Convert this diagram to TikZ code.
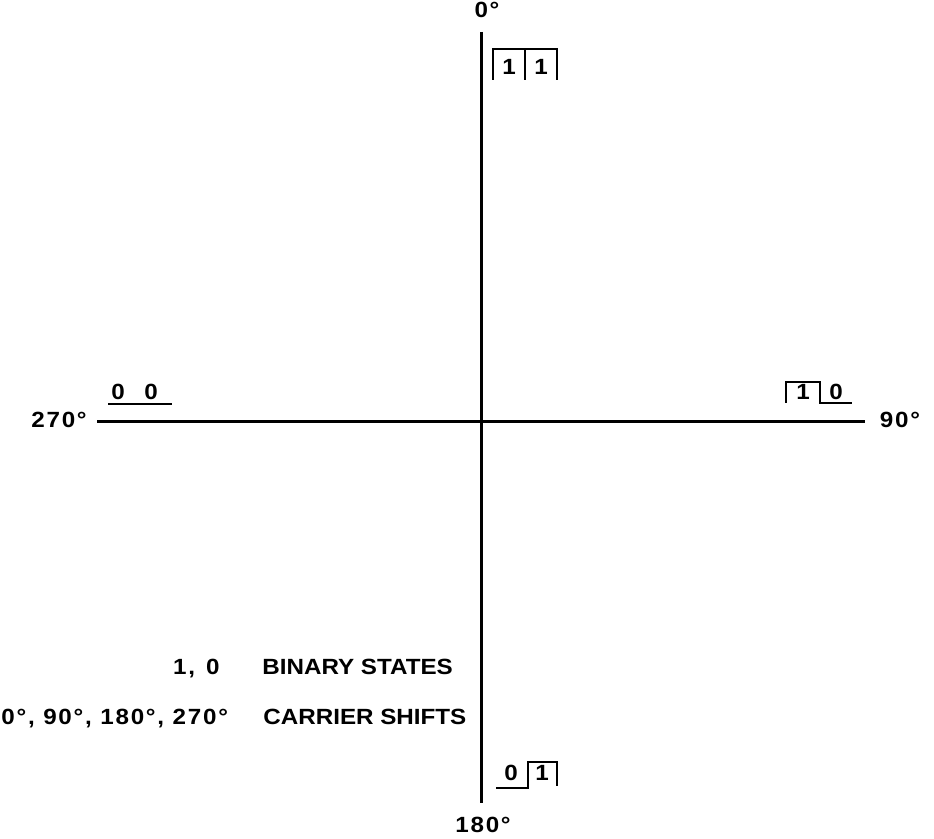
\documentclass[tikz,border=0pt]{standalone}
\usepackage{fontspec}
\setmainfont{Liberation Sans}[FakeStretch=1.1]
\usepackage{tikz}
\usetikzlibrary{positioning, calc}

\newcommand{\lblfont}{\fontsize{11}{13}\selectfont\bfseries}
\newcommand{\numfont}{\fontsize{11}{13}\selectfont\bfseries\addfontfeatures{LetterSpace=8}}

\begin{document}
\begin{tikzpicture}[x=0.5pt, y=-0.5pt,
    axis/.style={line width=1.5pt},
    wave/.style={line width=1pt, line join=miter},
    lbl/.style={font=\lblfont, inner sep=0pt, anchor=base},
    deg/.style={font=\numfont, inner sep=0pt, anchor=base},
    bit/.style={font=\lblfont, inner sep=0pt, anchor=base}]

    \useasboundingbox (0,0) rectangle (934,839);

    % --- AXES ---
    \coordinate (top) at (481,32);
    \coordinate (bot) at (481,803);
    \coordinate (lft) at (97,422);
    \coordinate (rgt) at (865,422);
    \draw[axis] (top) -- (bot);
    \draw[axis] (lft) -- (rgt);

    % --- CARRIER SHIFT LABELS ---
    \node[deg] (deg0) at (487,18) {0°};
    \node[deg] (deg90) at (900,428) {90°};
    \node[deg] (deg180) at (483,833) {180°};
    \node[deg] (deg270) at (59,428) {270°};

    % --- 0 DEG : 1 1 ---
    \node[bit] (b11a) at (509,75) {1};
    \node[bit] (b11b) at (541,75) {1};
    \draw[wave] (493,80) -- (493,49) -- (557,49) -- (557,80);
    \draw[wave] (525,49) -- (525,80);

    % --- 90 DEG : 1 0 ---
    \node[bit] (b10a) at (803,400) {1};
    \node[bit] (b10b) at (836,400) {0};
    \draw[wave] (786,403) -- (786,382) -- (820,382) -- (820,403) -- (852,403);

    % --- 180 DEG : 0 1 ---
    \node[bit] (b01a) at (511,781) {0};
    \node[bit] (b01b) at (542,781) {1};
    \draw[wave] (496,788) -- (528,788) -- (528,762) -- (557,762) -- (557,786);

    % --- 270 DEG : 0 0 ---
    \node[bit] (b00a) at (118,400) {0};
    \node[bit] (b00b) at (151,400) {0};
    \draw[wave] (108,404) -- (172,404);

    % --- LEGEND ---
    \node[deg, anchor=base east] (bin) at (220,675) {1,\enspace 0};
    \node[lbl, anchor=base west] (binTxt) at (262,675) {BINARY STATES};
    \node[deg, anchor=base west] (car) at (1,725) {0°, 90°, 180°, 270°};
    \node[lbl, anchor=base west] (carTxt) at (263,725) {CARRIER SHIFTS};

\end{tikzpicture}
\end{document}
